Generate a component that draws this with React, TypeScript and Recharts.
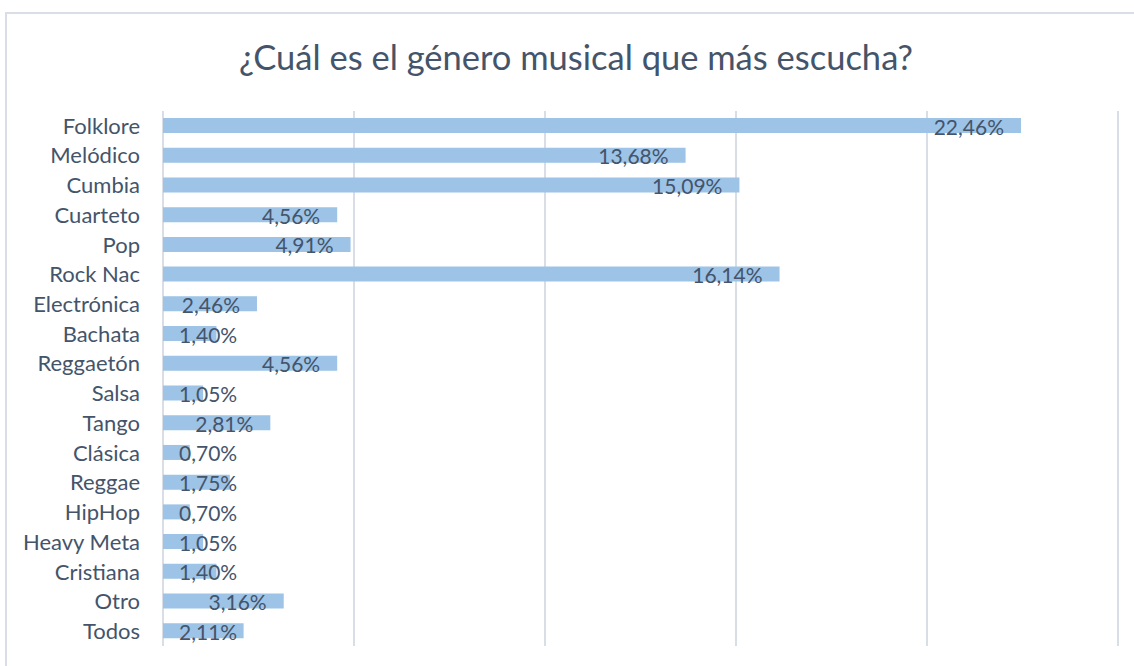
import React from 'react';
import { BarChart, Bar, XAxis, YAxis, CartesianGrid, LabelList } from 'recharts';

const generos = [
  'Folklore', 'Melódico', 'Cumbia', 'Cuarteto', 'Pop', 'Rock Nac', 'Electrónica', 'Bachata',
  'Reggaetón', 'Salsa', 'Tango', 'Clásica', 'Reggae', 'HipHop', 'Heavy Meta', 'Cristiana', 'Otro', 'Todos',
];
const porcentajes = [
  22.46, 13.68, 15.09, 4.56, 4.91, 16.14, 2.46, 1.4,
  4.56, 1.05, 2.81, 0.7, 1.75, 0.7, 1.05, 1.4, 3.16, 2.11,
];
const ticksX = [0, 5, 10, 15, 20, 25];

const data = generos.map((genero, i) => ({ genero, valor: porcentajes[i] }));

const FONT = 'Lato, "Noto Sans", sans-serif';
const TEXTO = '#44546A';
const GRILLA = '#D9DEE6';
const BARRA = '#9DC3E6';
const TAM = 22;
const TAM_VALOR = 21;

let ctx: CanvasRenderingContext2D | null = null;
function medir(t: string) {
  if (!ctx) ctx = document.createElement('canvas').getContext('2d');
  if (!ctx) return t.length * TAM_VALOR * 0.55;
  ctx.font = `${TAM_VALOR}px Lato`;
  return ctx.measureText(t).width;
}

const fmt = (v: number) => v.toFixed(2).replace('.', ',') + '%';

const EtiquetaValor = (props: any) => {
  const { x, y, width, height, value } = props;
  const txt = fmt(Number(value));
  const w = medir(txt);
  let xs = x + width - 17 - w;
  if (xs < x + 16) xs = x + 16;
  return (
    <text x={xs} y={y + height / 2 + 9} fill={TEXTO} fontSize={TAM_VALOR} fontFamily={FONT}>
      {txt}
    </text>
  );
};

// el eje X no muestra etiquetas, pero sus ticks sirven para la grilla
const TickVacio = () => <g />;

export default function App() {
  return (
    <div style={{ position: 'absolute', left: 0, top: 0, width: 1134, height: 666, overflow: 'hidden', background: '#fff' }}>
      <div style={{ position: 'absolute', left: 5, top: 12, width: 2000, height: 2000, border: `2px solid ${GRILLA}` }} />
      <svg width={1134} height={100} style={{ position: 'absolute', left: 0, top: 0 }}>
        <text x={576} y={70} textAnchor="middle" fontSize={34.5} fontFamily={FONT} fill={TEXTO}>
          ¿Cuál es el género musical que más escucha?
        </text>
      </svg>
      <div style={{ position: 'absolute', left: 0, top: 0 }}>
        <BarChart
          width={1134}
          height={666}
          data={data}
          layout="vertical"
          margin={{ top: 111, right: 16, bottom: 20, left: 0 }}
        >
          <CartesianGrid horizontal={false} stroke={GRILLA} strokeWidth={2} syncWithTicks />
          <XAxis
            type="number"
            domain={[0, 25]}
            ticks={ticksX}
            interval={0}
            height={0}
            tick={TickVacio}
            axisLine={false}
            tickLine={false}
          />
          <YAxis
            type="category"
            dataKey="genero"
            width={163}
            tickLine={false}
            axisLine={false}
            tickSize={0}
            tickMargin={23}
            interval={0}
            tick={{ fill: TEXTO, fontSize: TAM, fontFamily: FONT }}
          />
          <Bar dataKey="valor" fill={BARRA} barSize={15} isAnimationActive={false}>
            <LabelList dataKey="valor" content={EtiquetaValor} />
          </Bar>
        </BarChart>
      </div>
    </div>
  );
}
